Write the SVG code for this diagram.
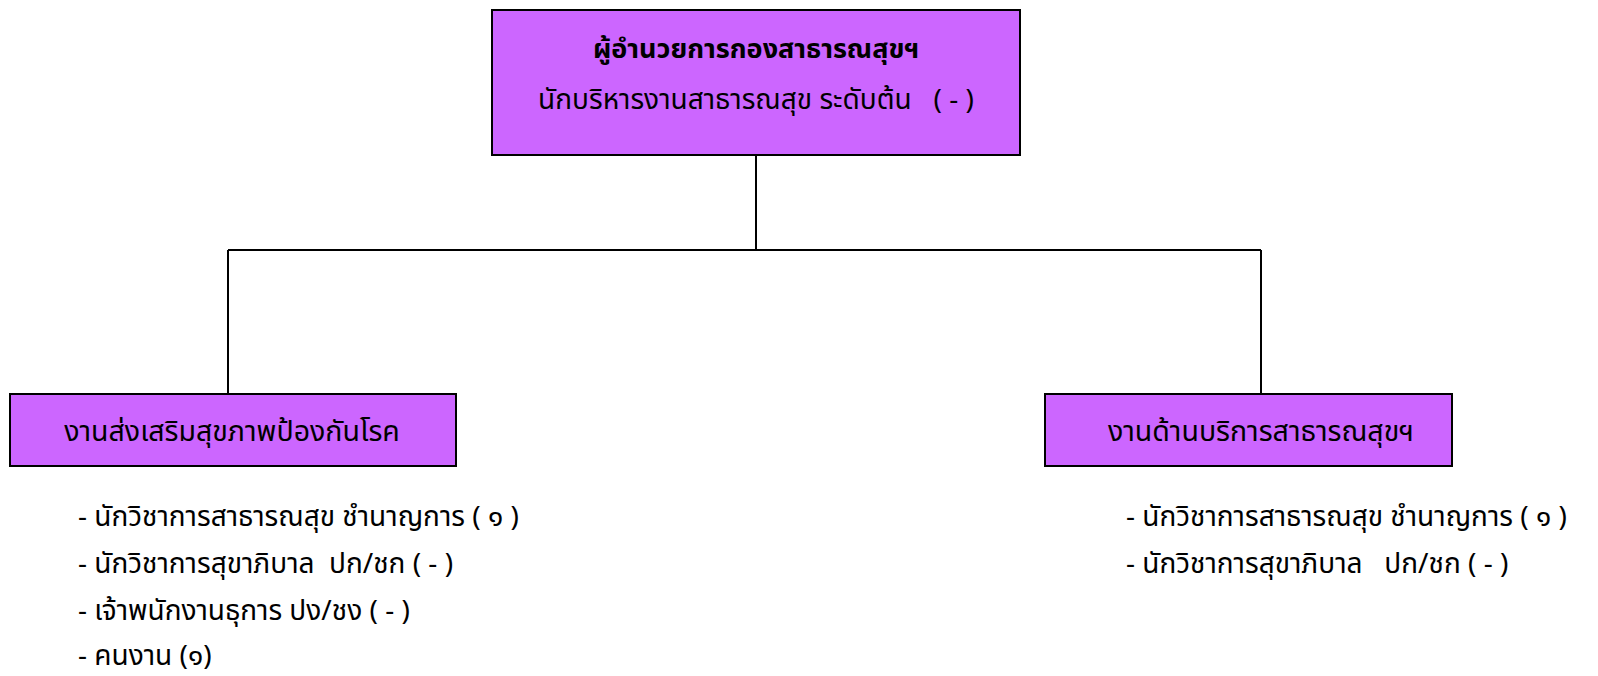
<svg xmlns="http://www.w3.org/2000/svg" width="1598" height="676" viewBox="0 0 1598 676">
<style>
.box{fill:#cc66ff;stroke:#000;stroke-width:2}
.ln{stroke:#000;stroke-width:2;fill:none}
text{font-family:"Noto Sans Thai","Noto Sans","DejaVu Sans",sans-serif;fill:#000;white-space:pre}
.t{font-size:27px}
.s{font-size:28px}
.l{font-size:28.5px}
.b{font-size:28px}
</style>
<rect width="1598" height="676" fill="#fff"/>
<g id="connectors">
<path class="ln" d="M756 155V250M228 250H1261M228 250V394M1261 250V394"/>
</g>
<g id="director">
<rect class="box" x="492" y="10" width="528" height="145"/>
<text class="t" x="756" y="58" text-anchor="middle" font-weight="bold">ผู้อำนวยการกองสาธารณสุขฯ</text>
<text class="s" x="756" y="109" text-anchor="middle" xml:space="preserve">นักบริหารงานสาธารณสุข ระดับต้น   ( - )</text>
</g>
<g id="promotion">
<rect class="box" x="10" y="394" width="446" height="72"/>
<text class="l" x="232" y="441" text-anchor="middle">งานส่งเสริมสุขภาพป้องกันโรค</text>
</g>
<g id="service">
<rect class="box" x="1045" y="394" width="407" height="72"/>
<text class="l" x="1261" y="441" text-anchor="middle">งานด้านบริการสาธารณสุขฯ</text>
</g>
<g id="promotion-staff">
<text class="b" x="78" y="526" xml:space="preserve">- นักวิชาการสาธารณสุข ชำนาญการ ( ๑ )</text>
<text class="b" x="78" y="573" xml:space="preserve">- นักวิชาการสุขาภิบาล  ปก/ชก ( - )</text>
<text class="b" x="78" y="620" xml:space="preserve">- เจ้าพนักงานธุการ ปง/ชง ( - )</text>
<text class="b" x="78" y="665" xml:space="preserve">- คนงาน (๑)</text>
</g>
<g id="service-staff">
<text class="b" x="1126" y="526" xml:space="preserve">- นักวิชาการสาธารณสุข ชำนาญการ ( ๑ )</text>
<text class="b" x="1126" y="573" xml:space="preserve">- นักวิชาการสุขาภิบาล   ปก/ชก ( - )</text>
</g>
</svg>
